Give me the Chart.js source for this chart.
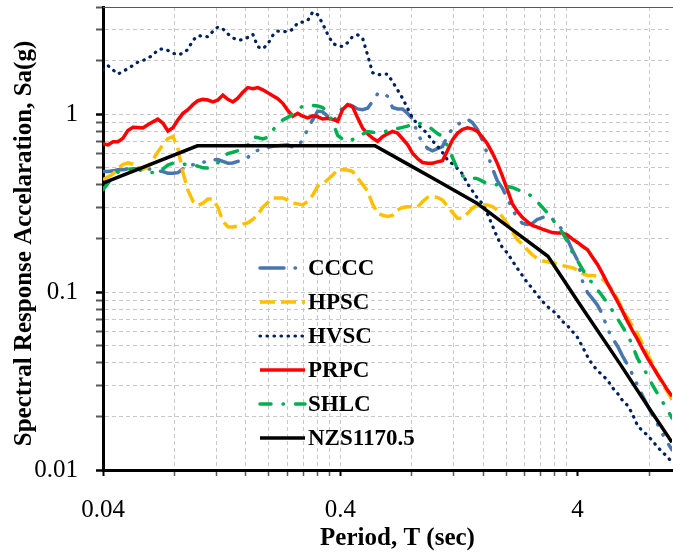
<!DOCTYPE html>
<html>
<head>
<meta charset="utf-8">
<script src="https://cdn.jsdelivr.net/npm/chart.js@4"></script>
<style>
  html, body { margin: 0; padding: 0; background: #fff; }
  #wrap { width: 673px; height: 552px; }
</style>
</head>
<body>
<div id="wrap"><canvas id="chart" width="673" height="552"></canvas></div>
<script>
// ── Data ──────────────────────────────────────────────────────────────────────

const periods = [
  0.04, 0.042, 0.0441, 0.0462, 0.0485, 0.0509, 0.0535, 0.0561, 0.0589, 0.0618,
  0.065, 0.0681, 0.0716, 0.0751, 0.0789, 0.0828, 0.0869, 0.0912, 0.0957, 0.1005,
  0.1055, 0.1107, 0.1162, 0.122, 0.128, 0.1344, 0.141, 0.148, 0.1554, 0.1631,
  0.1712, 0.1797, 0.1886, 0.198, 0.2078, 0.2181, 0.2289, 0.2403, 0.2522, 0.2647,
  0.2778, 0.2916, 0.3061, 0.3213, 0.3372, 0.3539, 0.3715, 0.3899, 0.4092, 0.4295,
  0.4509, 0.4732, 0.4967, 0.5214, 0.5472, 0.5744, 0.6029, 0.6328, 0.6642, 0.6971,
  0.7317, 0.768, 0.8061, 0.8461, 0.8881, 0.9322, 0.9785, 1.027, 1.078, 1.131,
  1.188, 1.246, 1.308, 1.373, 1.441, 1.513, 1.588, 1.667, 1.749, 1.836,
  1.927, 2.023, 2.123, 2.229, 2.339, 2.455, 2.577, 2.705, 2.839, 2.98,
  3.128, 3.283, 3.446, 3.617, 3.796, 4.0, 4.197, 4.406, 4.624, 4.853,
  5.094, 5.347, 5.612, 5.89, 6.182, 6.489, 6.811, 7.148, 7.503, 7.875,
  8.265, 8.675, 9.106, 9.557, 10.0,
];

const cccc = [
  0.476, 0.476, 0.480, 0.487, 0.487, 0.493, 0.496, 0.496, 0.496, 0.493,
  0.487, 0.480, 0.476, 0.465, 0.465, 0.469, 0.493, 0.515, 0.519, 0.527,
  0.536, 0.546, 0.554, 0.556, 0.543, 0.530, 0.532, 0.543, 0.552, 0.571,
  0.610, 0.626, 0.638, 0.651, 0.659, 0.664, 0.668, 0.672, 0.652, 0.659,
  0.717, 0.827, 0.929, 1.04, 1.03, 0.974, 0.909, 0.981, 1.09, 1.14,
  1.11, 1.07, 1.06, 1.08, 1.18, 1.30, 1.32, 1.26, 1.09, 1.07,
  1.07, 1.01, 0.941, 0.782, 0.690, 0.643, 0.622, 0.640, 0.657, 0.750,
  0.831, 0.871, 0.909, 0.937, 0.898, 0.820, 0.714, 0.598, 0.498, 0.422,
  0.384, 0.336, 0.292, 0.261, 0.244, 0.240, 0.243, 0.256, 0.262, 0.268,
  0.258, 0.242, 0.224, 0.199, 0.173, 0.151, 0.115, 0.0994, 0.0918, 0.0843,
  0.0749, 0.0621, 0.0550, 0.0498, 0.0438, 0.0391, 0.0345, 0.0300, 0.0262, 0.0232,
  0.0204, 0.0182, 0.0160, 0.0143, 0.0130,
];

const hpsc = [
  0.428, 0.444, 0.461, 0.496, 0.521, 0.532, 0.523, 0.502, 0.490, 0.505,
  0.556, 0.612, 0.672, 0.728, 0.749, 0.638, 0.468, 0.374, 0.324, 0.307,
  0.316, 0.333, 0.333, 0.299, 0.250, 0.233, 0.232, 0.235, 0.241, 0.245,
  0.256, 0.272, 0.300, 0.319, 0.338, 0.338, 0.338, 0.329, 0.316, 0.313,
  0.309, 0.323, 0.351, 0.394, 0.405, 0.428, 0.454, 0.487, 0.487, 0.485,
  0.476, 0.438, 0.403, 0.369, 0.312, 0.278, 0.270, 0.266, 0.270, 0.289,
  0.299, 0.302, 0.302, 0.300, 0.322, 0.340, 0.344, 0.340, 0.330, 0.304,
  0.280, 0.260, 0.260, 0.276, 0.296, 0.309, 0.309, 0.309, 0.302, 0.289,
  0.265, 0.242, 0.219, 0.197, 0.186, 0.173, 0.162, 0.154, 0.150, 0.148,
  0.146, 0.144, 0.141, 0.139, 0.137, 0.133, 0.127, 0.124, 0.124, 0.123,
  0.118, 0.111, 0.102, 0.0915, 0.0798, 0.0721, 0.0648, 0.0585, 0.0512, 0.0450,
  0.0396, 0.0348, 0.0303, 0.0276, 0.0248,
];

const hvsc = [
  1.77, 1.87, 1.77, 1.68, 1.74, 1.80, 1.88, 1.96, 2.00, 2.06,
  2.15, 2.30, 2.33, 2.28, 2.20, 2.15, 2.20, 2.31, 2.60, 2.76,
  2.74, 2.72, 2.92, 3.09, 3.01, 2.82, 2.68, 2.61, 2.62, 2.70,
  2.81, 2.39, 2.33, 2.48, 2.77, 2.93, 2.92, 2.90, 3.00, 3.26,
  3.29, 3.36, 3.75, 3.62, 3.22, 2.81, 2.50, 2.42, 2.40, 2.52,
  2.73, 2.79, 2.67, 2.15, 1.71, 1.66, 1.68, 1.68, 1.52, 1.37,
  1.23, 1.08, 0.953, 0.876, 0.827, 0.775, 0.708, 0.661, 0.610, 0.554,
  0.524, 0.495, 0.462, 0.407, 0.371, 0.337, 0.314, 0.276, 0.237, 0.203,
  0.178, 0.166, 0.150, 0.136, 0.124, 0.113, 0.105, 0.0962, 0.0890, 0.0830,
  0.0791, 0.0745, 0.0686, 0.0650, 0.0603, 0.0555, 0.0492, 0.0434, 0.0391, 0.0362,
  0.0341, 0.0320, 0.0290, 0.0270, 0.0246, 0.0231, 0.0207, 0.0178, 0.0166, 0.0157,
  0.0146, 0.0135, 0.0126, 0.0119, 0.0110,
];

const prpc = [
  0.681, 0.672, 0.699, 0.699, 0.731, 0.808, 0.843, 0.840, 0.835, 0.871,
  0.905, 0.937, 0.888, 0.804, 0.838, 0.929, 1.01, 1.06, 1.13, 1.19,
  1.21, 1.20, 1.17, 1.20, 1.28, 1.21, 1.17, 1.23, 1.33, 1.41,
  1.39, 1.41, 1.37, 1.32, 1.27, 1.22, 1.15, 1.05, 0.974, 1.01,
  0.974, 0.952, 0.978, 0.966, 0.939, 0.947, 0.935, 0.911, 1.06, 1.13,
  1.10, 0.953, 0.835, 0.775, 0.733, 0.704, 0.746, 0.775, 0.800, 0.783,
  0.727, 0.675, 0.603, 0.563, 0.535, 0.530, 0.530, 0.539, 0.547, 0.622,
  0.717, 0.780, 0.820, 0.838, 0.827, 0.800, 0.742, 0.681, 0.606, 0.529,
  0.450, 0.376, 0.314, 0.284, 0.263, 0.249, 0.237, 0.232, 0.226, 0.221,
  0.216, 0.215, 0.215, 0.210, 0.199, 0.190, 0.181, 0.173, 0.157, 0.143,
  0.127, 0.112, 0.0995, 0.0886, 0.0784, 0.0686, 0.0608, 0.0544, 0.0481, 0.0427,
  0.0385, 0.0345, 0.0313, 0.0282, 0.0260,
];

const shlc = [
  0.376, 0.409, 0.450, 0.472, 0.480, 0.488, 0.493, 0.493, 0.474, 0.472,
  0.470, 0.468, 0.493, 0.517, 0.530, 0.526, 0.524, 0.521, 0.519, 0.510,
  0.499, 0.498, 0.508, 0.533, 0.570, 0.601, 0.611, 0.623, 0.634, 0.672,
  0.746, 0.738, 0.725, 0.741, 0.813, 0.874, 0.928, 0.959, 0.999, 1.06,
  1.11, 1.12, 1.12, 1.11, 1.09, 1.02, 0.900, 0.760, 0.723, 0.701,
  0.720, 0.749, 0.772, 0.798, 0.791, 0.785, 0.790, 0.806, 0.817, 0.829,
  0.843, 0.856, 0.881, 0.894, 0.874, 0.860, 0.819, 0.778, 0.750, 0.664,
  0.571, 0.493, 0.450, 0.437, 0.437, 0.434, 0.420, 0.406, 0.401, 0.401,
  0.398, 0.392, 0.387, 0.377, 0.366, 0.356, 0.346, 0.322, 0.300, 0.279,
  0.257, 0.237, 0.217, 0.193, 0.168, 0.150, 0.134, 0.121, 0.112, 0.103,
  0.0948, 0.0866, 0.0787, 0.0711, 0.0640, 0.0577, 0.0503, 0.0425, 0.0382, 0.0342,
  0.0301, 0.0270, 0.0243, 0.0218, 0.0196,
];

// NZS1170.5 design spectrum corner points
const nzsPeriods = [0.04, 0.1, 0.56, 0.75, 1, 1.5, 2, 3, 4, 6, 8, 10];
const nzsSa      = [0.41, 0.664, 0.664, 0.534, 0.430, 0.317, 0.238, 0.159, 0.089, 0.040, 0.0223, 0.0143];

const xTickLabels = [0.04, 0.4, 4];
const yTickLabels = [0.01, 0.1, 1];

const xTitle = 'Period, T (sec)';
const yTitle = 'Spectral Response Accelaration, Sa(g)';

// ── Helpers ───────────────────────────────────────────────────────────────────

const SERIF = '"Liberation Serif", "Times New Roman", serif';

const pts = (xs, ys) => xs.map((x, i) => ({ x, y: ys[i] }));
const near = (v, list) => list.some(l => Math.abs(v / l - 1) < 1e-6);

// log gridlines: k * decade start, as Excel draws them from a 0.04 / 0.01 base
const decadeGrid = (starts, max) =>
  starts.flatMap(s => [1, 2, 3, 4, 5, 6, 7, 8, 9].map(k => s * k))
        .filter(v => v <= max * (1 + 1e-9));

const X_GRID = decadeGrid([0.04, 0.4, 4], 10);
const Y_GRID = decadeGrid([0.01, 0.1, 1], 4);

// ── Plugins ───────────────────────────────────────────────────────────────────

const frameAndTitles = {
  id: 'frameAndTitles',
  afterDraw(chart) {
    const { ctx, chartArea: a } = chart;
    ctx.save();
    // thin grey frame line along the top of the plot area
    ctx.strokeStyle = '#595959';
    ctx.lineWidth = 1;
    ctx.beginPath();
    ctx.moveTo(a.left, a.top + 0.5);
    ctx.lineTo(a.right + 1, a.top + 0.5);
    ctx.stroke();

    // axis titles (Excel puts them a little off the plot centre)
    ctx.fillStyle = '#000';
    ctx.font = `bold 25px ${SERIF}`;
    ctx.textAlign = 'center';
    ctx.textBaseline = 'alphabetic';
    ctx.fillText(xTitle, (a.left + a.right) / 2 + 10, 545);

    ctx.translate(31, (a.top + a.bottom) / 2 + 5);
    ctx.rotate(-Math.PI / 2);
    ctx.fillText(yTitle, 0, 0);
    ctx.restore();
  },
};

const innerLegend = {
  id: 'innerLegend',
  afterDatasetsDraw(chart) {
    const { ctx, chartArea: a } = chart;
    const x0 = a.left + 157, y0 = a.top + 261, step = 34;
    ctx.save();
    chart.data.datasets.forEach((ds, i) => {
      const y = y0 + i * step;
      ctx.strokeStyle = ds.borderColor;
      ctx.lineWidth = ds.borderWidth;
      ctx.lineCap = ds.borderCapStyle || 'butt';
      ctx.setLineDash(ds.borderDash || []);
      ctx.beginPath();
      ctx.moveTo(x0, y);
      ctx.lineTo(x0 + 45, y);
      ctx.stroke();
      ctx.setLineDash([]);
      ctx.fillStyle = '#000';
      ctx.font = `bold 23px ${SERIF}`;
      ctx.textBaseline = 'middle';
      ctx.textAlign = 'left';
      ctx.fillText(ds.label, x0 + 48, y + 1);
    });
    ctx.restore();
  },
};

// ── Chart ─────────────────────────────────────────────────────────────────────

const gridColor = ctx => (ctx.tick && near(ctx.tick.value, [4]) ? 'transparent' : '#c8c8c8');

new Chart(document.getElementById('chart'), {
  type: 'line',
  data: {
    datasets: [
      {
        label: 'CCCC', data: pts(periods, cccc), order: 5,
        borderColor: '#4a76b0', borderWidth: 3.5, borderDash: [24, 11, 0.5, 11, 0.5, 11],
        borderCapStyle: 'round',
      },
      {
        label: 'HPSC', data: pts(periods, hpsc), order: 4,
        borderColor: '#ffc000', borderWidth: 3.5, borderDash: [15, 6],
      },
      {
        label: 'HVSC', data: pts(periods, hvsc), order: 3,
        borderColor: '#002060', borderWidth: 3.2, borderDash: [0.5, 6.5],
        borderCapStyle: 'round',
      },
      {
        label: 'PRPC', data: pts(periods, prpc), order: 2,
        borderColor: '#ff0000', borderWidth: 3.5,
      },
      {
        label: 'SHLC', data: pts(periods, shlc), order: 1,
        borderColor: '#00b050', borderWidth: 3.5, borderDash: [11, 12, 0.5, 12],
        borderCapStyle: 'round',
      },
      {
        label: 'NZS1170.5', data: pts(nzsPeriods, nzsSa), order: 0,
        borderColor: '#000000', borderWidth: 3.5,
      },
    ],
  },
  options: {
    responsive: false,
    animation: false,
    layout: { padding: { top: 7, right: 1, left: 0, bottom: 0 } },
    elements: { point: { radius: 0 }, line: { tension: 0, fill: false } },
    plugins: { legend: { display: false }, tooltip: { enabled: false } },
    scales: {
      x: {
        type: 'logarithmic',
        min: 0.04,
        max: 10,
        afterBuildTicks: s => { s.ticks = X_GRID.map(v => ({ value: v })); },
        afterFit: s => {
          s.height = 82;
          s.paddingLeft = 0;
          s.paddingRight = 0;
        },
        ticks: {
          autoSkip: false,
          maxRotation: 0,
          padding: 19,
          color: '#000',
          font: { family: SERIF, size: 25 },
          callback: v => (near(v, xTickLabels) ? String(+v.toPrecision(3)) : ''),
        },
        grid: {
          color: gridColor,
          lineWidth: 1,
          tickLength: 6,
          tickWidth: ctx => (near(ctx.tick.value, xTickLabels) ? 2 : 1.5),
          tickColor: ctx => (near(ctx.tick.value, xTickLabels) ? '#000' : '#595959'),
        },
        border: { display: true, color: '#000', width: 3, dash: [4, 3] },
        title: { display: false },
      },
      y: {
        type: 'logarithmic',
        min: 0.01,
        max: 4,
        afterBuildTicks: s => { s.ticks = Y_GRID.map(v => ({ value: v })); },
        afterFit: s => {
          s.width = 103;
          s.paddingTop = 0;
          s.paddingBottom = 0;
        },
        ticks: {
          autoSkip: false,
          padding: 18,
          color: '#000',
          font: { family: SERIF, size: 25 },
          callback: v => (near(v, yTickLabels) ? String(+v.toPrecision(3)) : ''),
        },
        grid: {
          color: gridColor,
          lineWidth: 1,
          tickLength: 7,
          tickWidth: ctx => (near(ctx.tick.value, yTickLabels) ? 2.5 : 2),
          tickColor: ctx => (near(ctx.tick.value, yTickLabels) ? '#000' : '#595959'),
        },
        border: { display: true, color: '#000', width: 3, dash: [4, 3] },
        title: { display: false },
      },
    },
  },
  plugins: [frameAndTitles, innerLegend],
});
</script>
</body>
</html>
